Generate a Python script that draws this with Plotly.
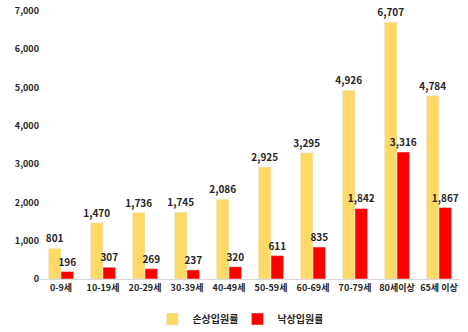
import plotly.graph_objects as go

categories = ["0-9세", "10-19세", "20-29세", "30-39세", "40-49세",
              "50-59세", "60-69세", "70-79세", "80세이상", "65세 이상"]
injury_rate = [801, 1470, 1736, 1745, 2086, 2925, 3295, 4926, 6707, 4784]
fall_rate = [196, 307, 269, 237, 320, 611, 835, 1842, 3316, 1867]
y_ticks = [0, 1000, 2000, 3000, 4000, 5000, 6000, 7000]

FONT = "Noto Sans CJK KR"
TEXT_COLOR = "#262626"

fig = go.Figure()
fig.add_trace(go.Bar(
    name="손상입원률", x=categories, y=injury_rate,
    marker_color="#FFD966",
    text=[f"{v:,}" for v in injury_rate], textposition="outside",
    textfont=dict(family=FONT, size=10, color=TEXT_COLOR, weight="bold"),
    cliponaxis=False,
))
fig.add_trace(go.Bar(
    name="낙상입원률", x=categories, y=fall_rate,
    marker_color="#FF0000",
    text=[f"{v:,}" for v in fall_rate], textposition="outside",
    textfont=dict(family=FONT, size=10, color=TEXT_COLOR, weight="bold"),
    cliponaxis=False,
))

fig.update_layout(
    width=468, height=332,
    margin=dict(l=40, r=8, t=11, b=53, autoexpand=False),
    barmode="group", bargap=0.4, bargroupgap=0.0,
    plot_bgcolor="white", paper_bgcolor="white",
    font=dict(family=FONT, size=9, color=TEXT_COLOR),
    showlegend=True,
    legend=dict(orientation="h", x=0.47, xanchor="center", y=-0.095, yanchor="top",
                font=dict(family=FONT, size=10, color=TEXT_COLOR, weight="bold"),
                itemwidth=30, entrywidth=40, traceorder="normal"),
    uniformtext=dict(minsize=8, mode="show"),
)
fig.update_xaxes(showgrid=False, showline=True, linecolor="#D9D9D9", linewidth=1,
                 ticks="", tickfont=dict(family=FONT, size=9, weight="bold"))
fig.update_yaxes(range=[0, 7000], tickvals=y_ticks, tickformat=",d",
                 showgrid=False, zeroline=False, showline=False, ticks="",
                 tickfont=dict(family=FONT, size=9, weight="bold"))

fig.write_html("out.html")
